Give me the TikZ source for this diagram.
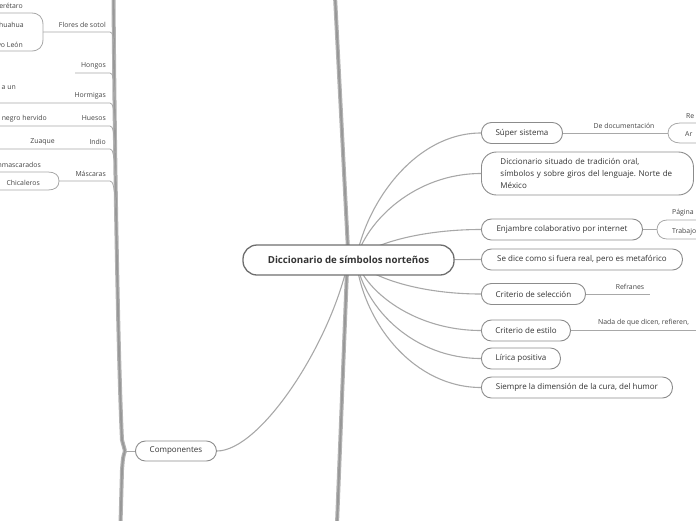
\documentclass[tikz,border=0pt]{standalone}
\usepackage{fontspec}
\setmainfont{Open Sans}
\frenchspacing
\definecolor{txt}{HTML}{333333}
\definecolor{subtxt}{HTML}{444444}
\definecolor{ln}{HTML}{A8A8A8}
\definecolor{bd}{HTML}{8C8C8C}
\definecolor{rootbd}{HTML}{6E6E6E}
\definecolor{barout}{HTML}{B4B4B4}
\definecolor{barin}{HTML}{989898}
\begin{document}
\begin{tikzpicture}[x=1pt,y=-1pt,
  topic/.style={draw=bd, line width=0.9pt, rounded corners=10pt, fill=white, text=txt,
    font=\fontsize{8}{11.7}\selectfont, minimum height=21pt, inner xsep=0pt, inner ysep=0pt, anchor=west},
  rootbox/.style={draw=rootbd, line width=1.3pt, rounded corners=14pt, fill=white, text=txt,
    font=\fontsize{9.7}{11}\selectfont\bfseries, minimum width=211pt, minimum height=30pt, inner sep=0pt},
  sub/.style={text=subtxt, font=\fontsize{6.9}{8}\selectfont, inner sep=0pt},
  conn/.style={draw=ln, line width=1.1pt},
  thin/.style={draw=ln, line width=0.8pt},
  barA/.style={draw=barout, line width=4pt},
  barB/.style={draw=barin, line width=1.8pt}]
\useasboundingbox (0,0) rectangle (696,520);
\clip (0,0) rectangle (696,520);

% ---------- coordinates ----------
\coordinate (hub) at (356,260);
\coordinate (hubc) at (348,262);
\coordinate (topc) at (335,-4);
\coordinate (topr) at (348,250);
\coordinate (botr) at (347,270);
\coordinate (botc) at (337,524);
\coordinate (lbtop) at (113.5,-4);
\coordinate (lbj) at (125,451);
\coordinate (lbbot) at (120.5,524);

% ---------- thick bars ----------
\foreach \s in {barA,barB}{
  \draw[\s] (topc) -- (topr);
  \draw[\s] (botr) -- (botc);
  \draw[\s] (lbtop) .. controls (115,200) and (119,380) .. (122,440) .. controls (123,446) .. (lbj);
  \draw[\s] (lbj) .. controls (123,457) .. (122,470) -- (lbbot);
}

% ---------- right topics ----------
\node[topic, minimum width=81pt] (super) at (481,133) {Súper sistema};
\node[topic, minimum height=43pt, rounded corners=15pt, align=left, text width=178pt, inner xsep=17pt] (situado) at (481,173.5)
  {\hspace*{2pt}Diccionario situado de tradición oral,\\\hspace*{2pt}símbolos y sobre giros del lenguaje. Norte de\\\hspace*{2pt}México};
\node[topic, minimum width=161pt] (enj) at (481,229.5) {Enjambre colaborativo por internet};
\node[topic, minimum width=201pt] (dice) at (481,259.5) {Se dice como si fuera real, pero es metafórico};
\node[topic, minimum width=104pt] (sel) at (481,294) {Criterio de selección};
\node[topic, minimum width=89pt] (est) at (481,330.5) {Criterio de estilo};
\node[topic, minimum width=79pt] (lir) at (481,358.5) {Lírica positiva};
\node[topic, minimum width=191pt] (sie) at (481,387.5) {Siempre la dimensión de la cura, del humor};
\node[topic, minimum width=81pt, minimum height=20pt] (comp) at (135,451) {Componentes};

% ---------- connectors from root ----------
\draw[conn] (hub) .. controls (366,203) and (415,133) .. (super.west);
\draw[conn] (hub) .. controls (366,221) and (415,173.5) .. (situado.west);
\draw[conn] (hub) .. controls (366,246.5) and (415,229.5) .. (enj.west);
\draw[conn] (hub) -- (dice.west);
\draw[conn] (hub) .. controls (366,275) and (415,294) .. (sel.west);
\draw[conn] (hub) .. controls (366,292) and (415,330.5) .. (est.west);
\draw[conn] (hub) .. controls (365,310) and (415,358.5) .. (lir.west);
\draw[conn] (hub) .. controls (364,325) and (415,387.5) .. (sie.west);
\draw[conn] (comp.east) .. controls (260,451) and (330,345) .. (hubc);
\draw[thin] (comp.west) -- (lbj);

\node[rootbox] (root) at (348.5,260) {Diccionario de símbolos norteños};

% ---------- right sub-topics ----------
\coordinate (docj) at (668,133);
\coordinate (reE) at (700,123);
\coordinate (arE) at (700,143);
\draw[thin] (super.east) -- (docj);
\node[sub] (doc) at (624,126) {De documentación};
\draw[thin] (docj) .. controls (668,127) and (673,123) .. (680,123) -- (reE);
\draw[thin] (docj) .. controls (668,139) and (673,143) .. (680,143) -- (arE);
\node[sub, anchor=west] (re) at (686,116) {Re};
\node[sub, anchor=west] (ar) at (685,134.5) {Ar};

\coordinate (enjj) at (657,229.5);
\coordinate (pagE) at (700,220);
\coordinate (traE) at (700,239);
\draw[thin] (enj.east) -- (enjj);
\draw[thin] (enjj) .. controls (657,224) and (661,220) .. (667,220) -- (pagE);
\draw[thin] (enjj) .. controls (657,235) and (661,239) .. (667,239) -- (traE);
\node[sub, anchor=west] (pag) at (672,212.5) {Página};
\node[sub, anchor=west] (tra) at (672,232) {Trabajo};

\coordinate (refE) at (650,294);
\draw[thin] (sel.east) -- (refE);
\node[sub] (ref) at (630,287) {Refranes};

\coordinate (nadaE) at (700,330.5);
\draw[thin] (est.east) -- (nadaE);
\node[sub, anchor=west] (nada) at (598,323) {Nada de que dicen, refieren,};

% ---------- left sub-topics ----------
\coordinate (florj) at (43,32);
\coordinate (querE) at (-4,13);
\coordinate (nuevE) at (-4,51);
\draw[thin] (florj) -- (43,25) .. controls (43,17) and (39,13) .. (31,13) -- (querE);
\draw[thin] (florj) -- (43,39) .. controls (43,47) and (39,51) .. (31,51) -- (nuevE);
\draw[thin] (florj) -- (110,32) .. controls (113,32) and (114,38) .. (114.5,60);
\node[sub, anchor=east] (flores) at (106,25) {Flores de sotol};
\node[sub, anchor=east] (quer) at (23,6) {Querétaro};
\node[sub, anchor=east] (chih) at (24,25) {Chihuahua};
\node[sub, anchor=east] (nuevo) at (23,44.5) {Nuevo León};

\coordinate (hongS) at (75,73);
\draw[thin] (hongS) -- (110,73) .. controls (113,73) and (114,79) .. (114.8,100);
\node[sub, anchor=east] (hongos) at (106,65.5) {Hongos};

\coordinate (hormS) at (-4,103);
\draw[thin] (hormS) -- (110,103) .. controls (113,103) and (114,109) .. (115,130);
\node[sub, anchor=east] (aun) at (16,87.5) {a un};
\node[sub, anchor=east] (hormigas) at (106,96) {Hormigas};

\coordinate (huesS) at (-4,126);
\draw[thin] (huesS) -- (110,126) .. controls (113,126) and (114,132) .. (115.2,153);
\node[sub, anchor=east] (negro) at (47,118.5) {negro hervido};
\node[sub, anchor=east] (huesos) at (106,118.5) {Huesos};

\coordinate (indS) at (-4,149);
\draw[thin] (indS) -- (110,149) .. controls (113,149) and (114,155) .. (115.5,176);
\node[sub, anchor=east] (zuaque) at (55,142) {Zuaque};
\node[sub, anchor=east] (indio) at (106,142) {Indio};

\coordinate (mascj) at (59,181);
\coordinate (enmE) at (-4,172);
\coordinate (chiE) at (-4,190);
\draw[thin] (mascj) .. controls (59,175) and (55,172) .. (48,172) -- (enmE);
\draw[thin] (mascj) .. controls (59,187) and (55,190) .. (48,190) -- (chiE);
\draw[thin] (mascj) -- (110,181) .. controls (113,181) and (114.5,187) .. (116,208);
\node[sub, anchor=east] (enm) at (41,164.5) {Enmascarados};
\node[sub, anchor=east] (mascaras) at (106,174) {Máscaras};
\node[sub, anchor=east] (chica) at (40,183) {Chicaleros};
\end{tikzpicture}
\end{document}
